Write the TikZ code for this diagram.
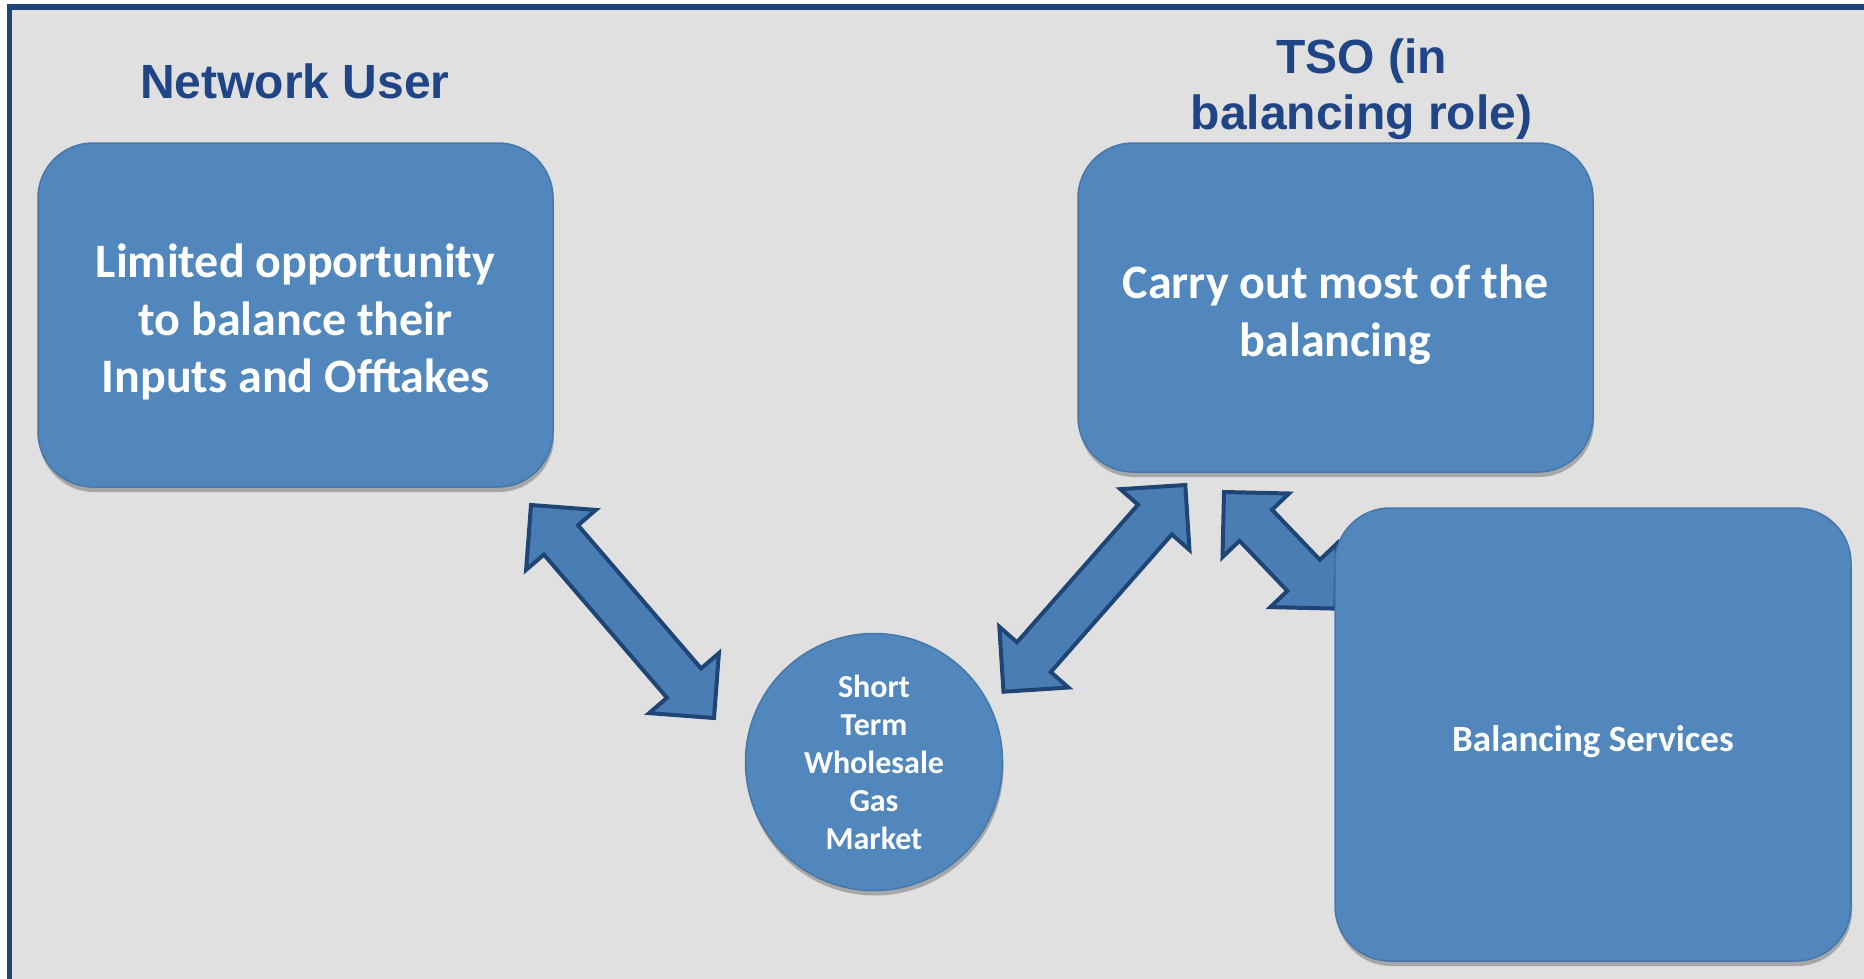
\documentclass[tikz,border=0pt]{standalone}
\usepackage{fontspec}
\setmainfont{Carlito}
\newfontfamily\titlefont{Liberation Sans}
\usetikzlibrary{calc,shadows}
\definecolor{bggray}{HTML}{E0E0E0}
\definecolor{framecol}{HTML}{1F4577}
\definecolor{boxfill}{HTML}{5187BC}
\definecolor{boxtop}{HTML}{6FA0D6}
\definecolor{boxedge}{HTML}{4777AA}
\definecolor{arrowfill}{HTML}{4A7DB4}
\definecolor{arrowedge}{HTML}{1F4577}
\definecolor{titlecol}{HTML}{1F4586}
\newcommand\arHL{46pt}
\newcommand\arHW{46pt}
\newcommand\arSW{22.5pt}
\newcommand\dblarrow[2]{%
  \draw[blockarrow] (#1)
   -- ($($(#1)!\arHL!(#2)$)!\arHW!90:(#2)$)
   -- ($($(#1)!\arHL!(#2)$)!\arSW!90:(#2)$)
   -- ($($(#2)!\arHL!(#1)$)!\arSW!-90:(#1)$)
   -- ($($(#2)!\arHL!(#1)$)!\arHW!-90:(#1)$)
   -- (#2)
   -- ($($(#2)!\arHL!(#1)$)!\arHW!90:(#1)$)
   -- ($($(#2)!\arHL!(#1)$)!\arSW!90:(#1)$)
   -- ($($(#1)!\arHL!(#2)$)!\arSW!-90:(#2)$)
   -- ($($(#1)!\arHL!(#2)$)!\arHW!-90:(#2)$)
   -- cycle;}
\tikzset{
  roundbox/.style={rectangle, rounded corners=55pt, fill=boxfill, draw=boxedge,
    line width=1.5pt, inner sep=0pt,
    drop shadow={shadow xshift=1pt, shadow yshift=-5pt, opacity=0.25, fill=black}},
  bigtext/.style={text=white, align=center, inner sep=0pt,
    font=\bfseries\fontsize{48}{57.5}\selectfont},
  smalltext/.style={text=white, align=center, inner sep=0pt,
    font=\bfseries\fontsize{37}{40}\selectfont},
  market/.style={circle, fill=boxfill, draw=boxedge, line width=1.5pt, text=white,
    align=center, inner sep=0pt, minimum size=257pt,
    font=\bfseries\fontsize{32}{38}\selectfont,
    drop shadow={shadow xshift=1pt, shadow yshift=-5pt, opacity=0.25, fill=black}},
  heading/.style={text=titlecol, align=center, inner sep=0pt,
    font=\titlefont\bfseries\fontsize{48}{56}\selectfont},
  blockarrow/.style={fill=arrowfill, draw=arrowedge, line width=4pt, line join=miter}
}
\begin{document}
\begin{tikzpicture}[x=1pt,y=-1pt]
\useasboundingbox (0,0) rectangle (1864,978);
\fill[white] (0,0) rectangle (1864,978);
\fill[bggray] (9.5,7) rectangle (1880,990);
\draw[framecol, line width=5.5pt] (9.5,995) -- (9.5,7) -- (1880,7);

% arrow end points
\coordinate (a1s) at (531,505);
\coordinate (a1e) at (714,718);
\coordinate (a2s) at (1003.5,691.7);
\coordinate (a2e) at (1185.3,485);
\coordinate (a3s) at (1224,492);
\coordinate (a3e) at (1335.4,608.6);

\dblarrow{a1s}{a1e}
\dblarrow{a2s}{a2e}
\dblarrow{a3s}{a3e}

\node[roundbox, minimum width=515pt, minimum height=344pt] (user) at (295.5,315) {};
\node[roundbox, minimum width=515pt, minimum height=329pt] (tso) at (1335.5,307.5) {};
\node[roundbox, minimum width=516pt, minimum height=453pt] (services) at (1593,734.5) {};
\node[market] (market) at (874,762) {Short\\Term\\Wholesale\\Gas\\Market};

\node[bigtext] (usertext) at ($(user.center)+(0,7)$)
  {Limited opportunity\\to balance their\\Inputs and Offtakes};
\node[bigtext] (tsotext) at ($(tso.center)+(0,7)$)
  {Carry out most of the\\balancing};
\node[smalltext] (servicestext) at ($(services.center)+(0,7)$)
  {Balancing Services};

\node[heading, anchor=base] (nuhead) at (295,98) {Network User};
\node[heading] (tsohead) at (1361.5,89) {TSO (in\\balancing role)};
\end{tikzpicture}
\end{document}
